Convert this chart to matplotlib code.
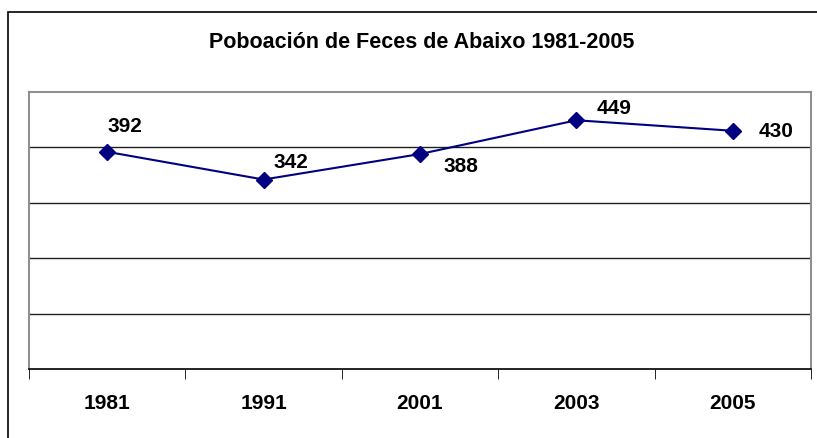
import matplotlib
matplotlib.use("Agg")
import matplotlib.pyplot as plt
from matplotlib.patches import Rectangle

years = ["1981", "1991", "2001", "2003", "2005"]
population = [392, 342, 388, 449, 430]
title = "Poboación de Feces de Abaixo 1981-2005"

# label offsets in points (style only)
label_offsets = [(13, 19), (19.5, 13), (29.5, -8), (27, 9), (31.5, 0.5)]

plt.rcParams['font.family'] = ['Liberation Sans', 'DejaVu Sans']
plt.rcParams['font.weight'] = 'bold'

W, H = 817, 439
fig = plt.figure(figsize=(W / 100, H / 100), dpi=100)

# outer chart border
fig.patches.append(Rectangle((8 / W, -0.1), 1.2, 1.1 - 13 / H, transform=fig.transFigure,
                             fill=False, edgecolor='black', lw=1.2))

ax = fig.add_axes([29 / W, (H - 370) / H, (811 - 29) / W, (370 - 93) / H])
x = list(range(len(years)))
ax.plot(x, population, color='#000080', lw=1.5, marker='D', markersize=8.5,
        markerfacecolor='#000080', markeredgecolor='#000080', zorder=3)

for xi, v, off in zip(x, population, label_offsets):
    ax.annotate(str(v), (xi, v), xytext=off, textcoords='offset points',
                ha='center', va='center', fontsize=15, fontweight='bold')

ax.set_ylim(0, 500)
ax.set_xlim(-0.5, len(years) - 0.5)
ax.set_yticks([100, 200, 300, 400])
ax.yaxis.grid(True, color='#202020', lw=1)
ax.tick_params(axis='y', left=False, labelleft=False)

ax.set_xticks(x)
ax.set_xticklabels(years, fontsize=15, fontweight='bold')
ax.set_xticks([i - 0.5 for i in range(len(years) + 1)], minor=True)
ax.tick_params(axis='x', which='major', length=0, pad=17)
ax.tick_params(axis='x', which='minor', length=7, direction='out', color='black')

for s in ['top', 'left', 'right']:
    ax.spines[s].set_color('#909090')
    ax.spines[s].set_linewidth(1.5)
ax.spines['bottom'].set_color('black')
ax.spines['bottom'].set_linewidth(1.2)

fig.text(422 / W, 1 - 42 / H, title, ha='center', va='center', fontsize=15.5, fontweight='bold')

fig.savefig("out.png", dpi=100)
